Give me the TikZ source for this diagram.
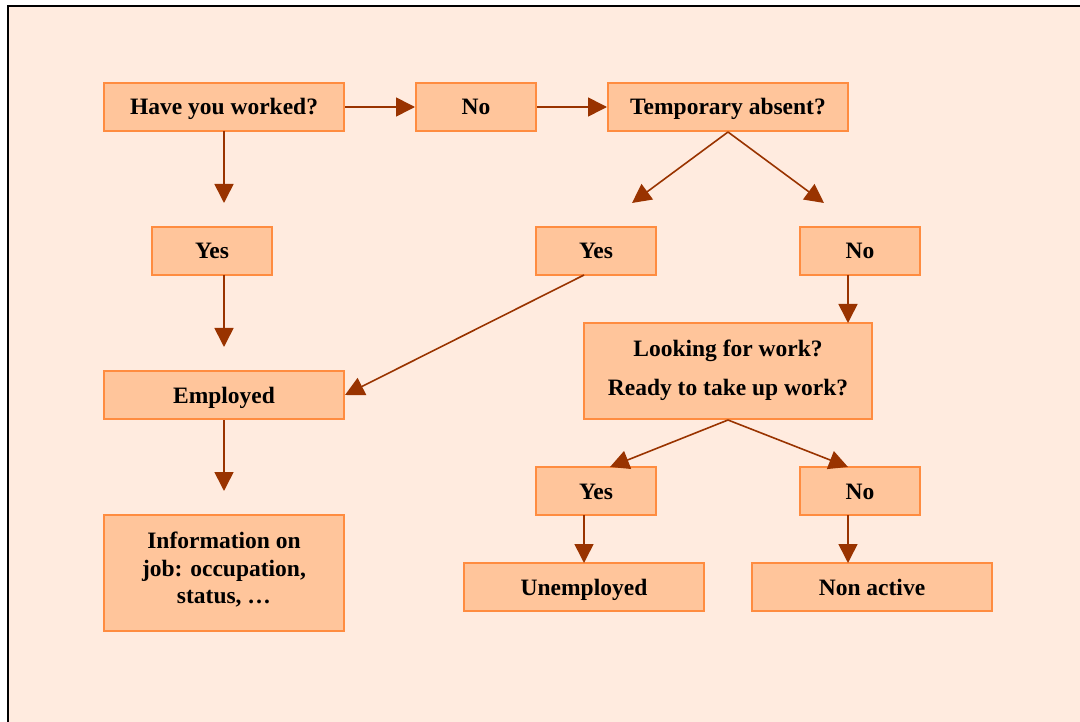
\documentclass[tikz,border=0pt]{standalone}
\usepackage{fontspec}
\setmainfont{Liberation Serif}
\usetikzlibrary{arrows.meta}
\definecolor{bgfill}{HTML}{FFEBDF}
\definecolor{boxfill}{HTML}{FFC59B}
\definecolor{boxline}{HTML}{FF8C40}
\definecolor{arrowc}{HTML}{993300}
\tikzset{
  box/.style={rectangle, draw=boxline, line width=2pt, fill=boxfill, inner sep=0pt,
    font=\fontsize{23.5}{28}\selectfont\bfseries, align=center, text=black,
    text height=16pt, text depth=0pt},
  bigbox/.style={rectangle, draw=boxline, line width=2pt, fill=boxfill, inner sep=0pt},
  lbl/.style={font=\fontsize{23.5}{27.5}\selectfont\bfseries, align=center, text=black, inner sep=0pt},
  conn/.style={draw=arrowc, line width=1.6pt, -{Triangle[length=19pt,width=19pt]}, arrowc}
}
\begin{document}
\begin{tikzpicture}[x=1pt,y=-1pt]
\useasboundingbox (0,0) rectangle (1080,722);
\draw[line width=2pt, fill=bgfill] (8,6) rectangle (1095,740);
% nodes
\node[box, minimum width=240, minimum height=48] (b1) at (224,107) {Have you worked?};
\node[box, minimum width=120, minimum height=48] (no1) at (476,107) {No};
\node[box, minimum width=240, minimum height=48] (temp) at (728,107) {Temporary absent?};
\node[box, minimum width=120, minimum height=48] (yes1) at (212,251) {Yes};
\node[box, minimum width=120, minimum height=48] (yes2) at (596,251) {Yes};
\node[box, minimum width=120, minimum height=48] (no2) at (860,251) {No};
\node[box, minimum width=240, minimum height=48] (emp) at (224,395) {Employed};
\node[bigbox, minimum width=288, minimum height=96] (look) at (728,371) {};
\node[lbl] (looktxt) at (728,370.5) {Looking for work?\\[11.5pt]Ready to take up work?};
\node[bigbox, minimum width=240, minimum height=116] (info) at (224,573) {};
\node[lbl] (infotxt) at (224,570) {Information on\\job: occupation,\\status, \ldots};
\node[box, minimum width=120, minimum height=48] (yes3) at (596,491) {Yes};
\node[box, minimum width=120, minimum height=48] (no3) at (860,491) {No};
\node[box, minimum width=240, minimum height=48] (unemp) at (584,587) {Unemployed};
\node[box, minimum width=240, minimum height=48] (nonact) at (872,587) {Non active};
% coordinates
\coordinate (b1s) at (224,131);
\coordinate (a1) at (224,203);
\coordinate (y1s) at (224,275);
\coordinate (a2) at (224,347);
\coordinate (a3) at (224,491);
\coordinate (a4) at (632,203);
\coordinate (a5) at (824,203);
\coordinate (y2s) at (584,275);
\coordinate (n2s) at (848,275);
\coordinate (lookn) at (848,323);
\coordinate (a6) at (610,467);
\coordinate (a7) at (848,467);
\coordinate (y3s) at (584,515);
\coordinate (u1) at (584,563);
\coordinate (n3s) at (848,515);
\coordinate (u2) at (848,563);
% connectors
\draw[conn] (b1.east) -- (no1.west);
\draw[conn] (no1.east) -- (temp.west);
\draw[conn] (b1s) -- (a1);
\draw[conn] (y1s) -- (a2);
\draw[conn] (emp.south) -- (a3);
\draw[conn] (temp.south) -- (a4);
\draw[conn] (temp.south) -- (a5);
\draw[conn] (y2s) -- (emp.east);
\draw[conn] (n2s) -- (lookn);
\draw[conn] (look.south) -- (a6);
\draw[conn] (look.south) -- (a7);
\draw[conn] (y3s) -- (u1);
\draw[conn] (n3s) -- (u2);
\end{tikzpicture}
\end{document}
